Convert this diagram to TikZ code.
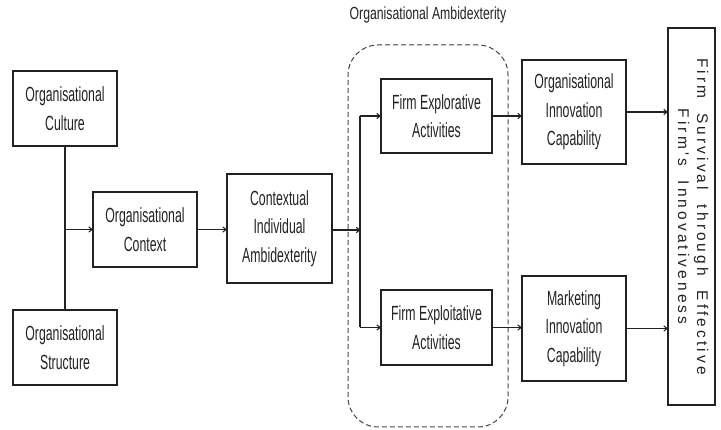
\documentclass[tikz,border=0pt]{standalone}
\usepackage{fontspec}
\usepackage{graphicx}
\setmainfont{Liberation Sans}
\newfontfamily\narrowfont{Liberation Sans}[FakeStretch=0.6]
\newfontfamily\titlefont{Liberation Sans}[FakeStretch=0.7]
\newfontfamily\spacedfont{Liberation Sans}[LetterSpace=20,WordSpace=2]
\usetikzlibrary{arrows.meta}
\definecolor{ink}{HTML}{222222}
\tikzset{
  box/.style={draw=ink, line width=1.1pt, inner sep=0pt, align=center, text=ink,
    font=\narrowfont\fontsize{20.5}{28.5}\selectfont},
  arr/.style={draw=ink, line width=1.1pt, -{To[length=4pt,width=6pt]}},
  conn/.style={draw=ink, line width=1.1pt},
  ambbox/.style={draw=ink!85, line width=1pt, dash pattern=on 5pt off 3pt, rounded corners=30pt, inner sep=0pt}
}
\begin{document}
\begin{tikzpicture}[x=1pt,y=-1pt]
\useasboundingbox (0,0) rectangle (721,430);
% dashed ambidexterity region
\node[ambbox, minimum width=160pt, minimum height=382pt] (amb) at (428,236) {};
\node[text=ink, font=\titlefont\fontsize{17.5}{20}\selectfont] (ttl) at (428,15) {Organisational Ambidexterity};
% boxes
\node[box, minimum width=104pt, minimum height=75pt] (oc) at (65,108.5) {Organisational\\Culture};
\node[box, minimum width=104pt, minimum height=75pt] (os) at (65,347.5) {Organisational\\Structure};
\node[box, minimum width=104pt, minimum height=75pt] (ctx) at (145,229.5) {Organisational\\Context};
\node[box, minimum width=105pt, minimum height=109pt] (cia) at (279.5,228.5) {Contextual\\Individual\\Ambidexterity};
\node[box, minimum width=111pt, minimum height=74pt] (fe) at (436.5,116) {Firm Explorative\\Activities};
\node[box, minimum width=111pt, minimum height=75pt] (fx) at (436.5,327.5) {Firm Exploitative\\Activities};
\node[box, minimum width=104pt, minimum height=104pt] (oic) at (574,112) {Organisational\\Innovation\\Capability};
\node[box, minimum width=104pt, minimum height=105pt] (mic) at (574,328.5) {Marketing\\Innovation\\Capability};
\node[box, minimum width=47pt, minimum height=377pt] (fin) at (691.5,216.5)
  {\rotatebox{-90}{\spacedfont\fontsize{15.5}{19}\selectfont\begin{tabular}{@{}c@{}}Firm Survival through Effective\\Firm's Innovativeness\end{tabular}}};
% connectors
\coordinate (j1) at (oc.south |- ctx.west);
\coordinate (sp) at (360,230);
\coordinate (spt) at (360,116);
\coordinate (spb) at (360,327.5);
\draw[conn] (oc.south) -- (os.north);
\draw[arr] (j1) -- (ctx.west);
\draw[arr] (ctx.east) -- (ctx.east -| cia.west);
\draw[arr] (cia.east |- sp) -- (sp);
\draw[conn] (spt) -- (spb);
\draw[arr] (spt) -- (fe.west);
\draw[arr] (spb) -- (fx.west);
\draw[arr] (fe.east) -- (fe.east -| oic.west);
\draw[arr] (fx.east) -- (fx.east -| mic.west);
\draw[arr] (oic.east) -- (oic.east -| fin.west);
\draw[arr] (mic.east) -- (mic.east -| fin.west);
\end{tikzpicture}
\end{document}
